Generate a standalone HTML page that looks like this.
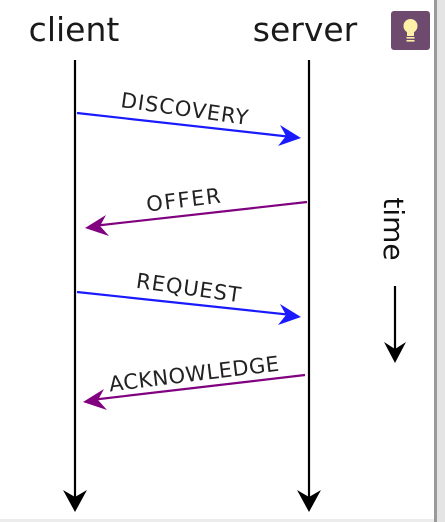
<!DOCTYPE html>
<html><head><meta charset="utf-8"><style>
html,body{margin:0;padding:0;background:#fff;width:445px;height:522px;overflow:hidden}
svg{display:block}
text{font-family:"DejaVu Sans","Liberation Sans",sans-serif}
</style></head><body>
<svg width="445" height="522" viewBox="0 0 445 522">
<rect x="0" y="519" width="445" height="3" fill="#ececec"/>
<rect x="434" y="0" width="3" height="522" fill="#9a9a9a"/>
<rect x="437" y="0" width="8" height="522" fill="#e4e4e4"/>
<text x="74" y="41" font-size="33" text-anchor="middle" fill="#1a1a1a">client</text>
<text x="305" y="41" font-size="33" text-anchor="middle" fill="#1a1a1a">server</text>
<rect x="391" y="11" width="39" height="39" rx="3" fill="#6e4a6f"/>
<circle cx="410.5" cy="26" r="7" fill="#fdf1a8"/>
<rect x="407" y="28" width="7" height="8" fill="#fdf1a8"/>
<rect x="406.5" y="37" width="8" height="1.6" fill="#fdf1a8"/>
<rect x="406.5" y="40" width="8" height="1.6" fill="#fdf1a8"/>
<g stroke="#000" stroke-width="2.2">
<line x1="75" y1="60" x2="75" y2="500"/>
<line x1="309" y1="60" x2="309" y2="500"/>
<line x1="395" y1="286" x2="395" y2="350"/>
</g>
<path d="M75,512 L63,490 L75,497 L87,490 Z" fill="#000"/>
<path d="M309,512 L297,490 L309,497 L321,490 Z" fill="#000"/>
<path d="M395,363 L384,342 L395,349 L406,342 Z" fill="#000"/>
<text transform="translate(384,229) rotate(90)" font-size="28" text-anchor="middle" fill="#111">time</text>
<g stroke-width="2.2" fill="none">
<line x1="77" y1="113" x2="292" y2="137" stroke="#1a1aff"/>
<line x1="307" y1="202" x2="93" y2="226" stroke="#800080"/>
<line x1="77" y1="292" x2="292" y2="315" stroke="#1a1aff"/>
<line x1="305" y1="375" x2="91" y2="400" stroke="#800080"/>
</g>
<path d="M301,138 L280,125 L286,136 L278,146 Z" fill="#1a1aff"/>
<path d="M85,228 L106,215 L100,226 L109,236 Z" fill="#800080"/>
<path d="M301,317 L280,304 L286,315 L278,325 Z" fill="#1a1aff"/>
<path d="M83,402 L104,389 L98,400 L107,410 Z" fill="#800080"/>
<g font-size="21" fill="#222" text-anchor="middle">
<text transform="translate(184,116) rotate(8)" letter-spacing="1">DISCOVERY</text>
<text transform="translate(185,207) rotate(-7)" letter-spacing="1.5">OFFER</text>
<text transform="translate(188,295) rotate(8)" letter-spacing="1">REQUEST</text>
<text transform="translate(195,381) rotate(-7)" letter-spacing="0.5">ACKNOWLEDGE</text>
</g>
</svg>
</body></html>
